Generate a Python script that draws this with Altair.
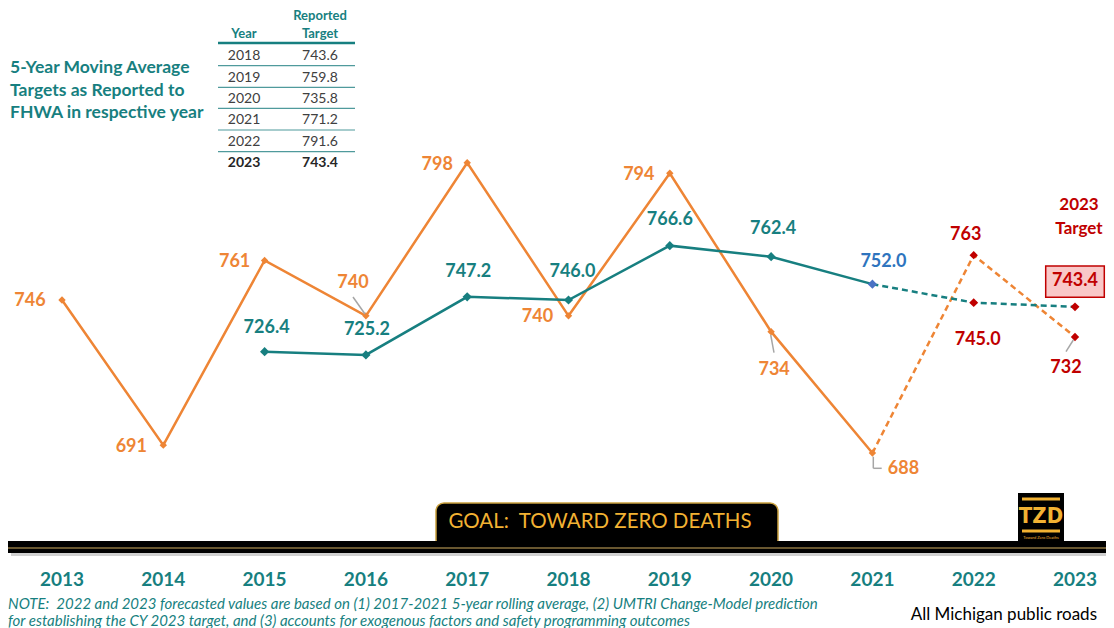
import altair as alt
import pandas as pd

# ---------------- data ----------------
years_actual = [2013, 2014, 2015, 2016, 2017, 2018, 2019, 2020, 2021, 2022, 2023]
fatalities = [746, 691, 761, 740, 798, 740, 794, 734, 688, 763, 732]

years_avg = [2015, 2016, 2017, 2018, 2019, 2020, 2021, 2022, 2023]
moving_avg = [726.4, 725.2, 747.2, 746.0, 766.6, 762.4, 752.0, 745.0, 743.4]

axis_years = [2013, 2014, 2015, 2016, 2017, 2018, 2019, 2020, 2021, 2022, 2023]

table_years = ["2018", "2019", "2020", "2021", "2022", "2023"]
table_targets = ["743.6", "759.8", "735.8", "771.2", "791.6", "743.4"]

title_lines = ["5-Year Moving Average", "Targets as Reported to", "FHWA in respective year"]
note_lines = [
    "NOTE:\u00a0\u00a02022 and 2023 forecasted values are based on (1) 2017-2021 5-year rolling average, (2) UMTRI Change-Model prediction",
    "for establishing the CY 2023 target, and (3) accounts for exogenous factors and safety programming outcomes",
]

# ---------------- layout / style ----------------
W, H = 1098, 620
FONT = "Lato"
ORANGE = "#EE8535"
TEAL = "#177F80"
BLUE_TXT = "#2E74BE"
BLUE_MK = "#4A72C4"
RED = "#C00000"
GRAY = "#A6A6A6"
GOLD = "#F2B233"

xs = alt.Scale(domain=[2012.4669, 2023.306], nice=False, zero=False)
ys = alt.Scale(domain=[621.71, 856.65], nice=False, zero=False)

# label pixel offsets (layout only)
act_offsets = [(-32, 1), (-32, 2), (-30, 2), (-13, -33), (-30, 2), (-31, 1),
               (-31, 2), (3, 38), (31, 16), (-8, -20), (-9, 31)]
avg_offsets = [(2, -24), (1, -25), (1, -25), (4, -28), (0, -26), (2, -28),
               (11, -22), (4, 37), (0, -26)]

act = pd.DataFrame({"year": years_actual, "value": fatalities})
avg = pd.DataFrame({"year": years_avg, "value": moving_avg})
one = pd.DataFrame({"k": [0]})


def enc(chart):
    return chart.encode(
        x=alt.X("year:Q", scale=xs, axis=None),
        y=alt.Y("value:Q", scale=ys, axis=None),
    )


layers = []

# bottom banner pieces (drawn first)
layers.append(
    alt.Chart(one).mark_rect(fill="black", stroke="#C9A03E", strokeWidth=1.5, cornerRadius=8)
    .encode(x=alt.value(428), x2=alt.value(770), y=alt.value(495), y2=alt.value(540))
)
layers.append(
    alt.Chart(one).mark_text(text="GOAL:\u00a0\u00a0TOWARD ZERO DEATHS", font=FONT, fontSize=20.5,
                             color=GOLD, align="center", baseline="middle")
    .encode(x=alt.value(592), y=alt.value(514))
)
# TZD logo
layers.append(
    alt.Chart(one).mark_rect(fill="black")
    .encode(x=alt.value(1010), x2=alt.value(1056), y=alt.value(485), y2=alt.value(535))
)
for yy in [491, 523]:
    layers.append(
        alt.Chart(one).mark_rule(color=GOLD, strokeWidth=3)
        .encode(x=alt.value(1014), x2=alt.value(1052), y=alt.value(yy))
    )
layers.append(
    alt.Chart(one).mark_text(text="TZD", font="DejaVu Sans Condensed", fontSize=22, fontWeight="bold",
                             color=GOLD, align="center", baseline="middle")
    .encode(x=alt.value(1033), y=alt.value(508))
)
layers.append(
    alt.Chart(one).mark_text(text="Toward Zero Deaths", font=FONT, fontSize=4,
                             color=GOLD, align="center", baseline="middle")
    .encode(x=alt.value(1033), y=alt.value(530))
)
# black bar with gold stripe and shadow
layers.append(
    alt.Chart(one).mark_rect(fill="#D0D0D0")
    .encode(x=alt.value(3), x2=alt.value(W), y=alt.value(545), y2=alt.value(548))
)
layers.append(
    alt.Chart(one).mark_rect(fill="black")
    .encode(x=alt.value(-8), x2=alt.value(W + 8), y=alt.value(533), y2=alt.value(545))
)
layers.append(
    alt.Chart(one).mark_rule(color="#8C7440", strokeWidth=1.5)
    .encode(x=alt.value(-8), x2=alt.value(W + 8), y=alt.value(540))
)

# lines
layers.append(enc(alt.Chart(act[act.year <= 2021]).mark_line(color=ORANGE, strokeWidth=2.5)))
layers.append(enc(alt.Chart(act[act.year >= 2021]).mark_line(color=ORANGE, strokeWidth=2.5, strokeDash=[6, 4])))
layers.append(enc(alt.Chart(avg[avg.year <= 2021]).mark_line(color=TEAL, strokeWidth=2.5)))
layers.append(enc(alt.Chart(avg[avg.year >= 2021]).mark_line(color=TEAL, strokeWidth=2.5, strokeDash=[6, 4])))

# markers
layers.append(enc(alt.Chart(act[act.year <= 2021]).mark_point(shape="diamond", filled=True, size=55, color=ORANGE, opacity=1)))
layers.append(enc(alt.Chart(act[act.year >= 2022]).mark_point(shape="diamond", filled=True, size=70, color=RED, opacity=1)))
layers.append(enc(alt.Chart(avg[avg.year <= 2020]).mark_point(shape="diamond", filled=True, size=85, color=TEAL, opacity=1)))
layers.append(enc(alt.Chart(avg[avg.year == 2021]).mark_point(shape="diamond", filled=True, size=85, color=BLUE_MK, opacity=1)))
layers.append(enc(alt.Chart(avg[avg.year >= 2022]).mark_point(shape="diamond", filled=True, size=80, color=RED, opacity=1)))

# leader lines
for (x1, y1, x2, y2) in [(345, 289, 357, 306), (762.7, 327, 766, 344.7),
                         (865.3, 448.7, 865.3, 460.3), (865.3, 460.3, 873.7, 460.3),
                         (1058, 343.7, 1065.3, 332)]:
    layers.append(
        alt.Chart(one).mark_rule(color=GRAY, strokeWidth=1.5)
        .encode(x=alt.value(x1), y=alt.value(y1), x2=alt.value(x2), y2=alt.value(y2))
    )

# box for the 2023 target
layers.append(
    alt.Chart(one).mark_rect(fill="#F9C8C8", stroke=RED, strokeWidth=1.5)
    .encode(x=alt.value(1037.7), x2=alt.value(1096.3), y=alt.value(258), y2=alt.value(289.3))
)

# data labels
for i, (yr, v) in enumerate(zip(years_actual, fatalities)):
    dx, dy = act_offsets[i]
    col = ORANGE if yr <= 2021 else RED
    d = pd.DataFrame({"year": [yr], "value": [v], "t": [f"{v:d}"]})
    layers.append(enc(alt.Chart(d).mark_text(dx=dx, dy=dy, font=FONT, fontSize=18, fontWeight="bold",
                                             color=col, align="center", baseline="middle")).encode(text="t:N"))
for i, (yr, v) in enumerate(zip(years_avg, moving_avg)):
    dx, dy = avg_offsets[i]
    col = TEAL if yr <= 2020 else (BLUE_TXT if yr == 2021 else RED)
    d = pd.DataFrame({"year": [yr], "value": [v], "t": [f"{v:.1f}"]})
    layers.append(enc(alt.Chart(d).mark_text(dx=dx, dy=dy, font=FONT, fontSize=18, fontWeight="bold",
                                             color=col, align="center", baseline="middle")).encode(text="t:N"))

# 2023 Target heading
for txt, yy in [("2023", 197), ("Target", 221)]:
    layers.append(
        alt.Chart(one).mark_text(text=txt, font=FONT, fontSize=17, fontWeight="bold", color=RED,
                                 align="center", baseline="middle")
        .encode(x=alt.value(1071), y=alt.value(yy))
    )

# x axis year labels
layers.append(
    alt.Chart(pd.DataFrame({"year": axis_years, "t": [str(y) for y in axis_years]}))
    .mark_text(font=FONT, fontSize=19, fontWeight="bold", color=TEAL, align="center", baseline="middle")
    .encode(x=alt.X("year:Q", scale=xs, axis=None), y=alt.value(572), text="t:N")
)

# left title
for txt, yy in zip(title_lines, [60, 83, 105]):
    layers.append(
        alt.Chart(one).mark_text(text=txt, font=FONT, fontSize=17.5, fontWeight="bold", color=TEAL,
                                 align="left", baseline="middle")
        .encode(x=alt.value(2), y=alt.value(yy))
    )

# table
for txt, xx, yy in [("Reported", 312, 8), ("Target", 312, 26), ("Year", 236, 26)]:
    layers.append(
        alt.Chart(one).mark_text(text=txt, font=FONT, fontSize=13, fontWeight="bold", color=TEAL,
                                 align="center", baseline="middle")
        .encode(x=alt.value(xx), y=alt.value(yy))
    )
layers.append(
    alt.Chart(one).mark_rule(color=TEAL, strokeWidth=2.5)
    .encode(x=alt.value(210), x2=alt.value(347), y=alt.value(35))
)
for yy in [57.7, 79.3, 100.3, 122, 143.7]:
    layers.append(
        alt.Chart(one).mark_rule(color="#4F9A9C", strokeWidth=1.2)
        .encode(x=alt.value(210), x2=alt.value(347), y=alt.value(yy))
    )
row_y = [48, 69.7, 91, 112, 133.7, 155.3]
for i, (ty, tv) in enumerate(zip(table_years, table_targets)):
    last = i == len(table_years) - 1
    for txt, xx in [(ty, 236), (tv, 312)]:
        layers.append(
            alt.Chart(one).mark_text(text=txt, font=FONT, fontSize=14,
                                     fontWeight="bold" if last else "normal",
                                     color="#262626" if last else "#404040",
                                     align="center", baseline="middle")
            .encode(x=alt.value(xx), y=alt.value(row_y[i]))
        )

# note
for txt, yy in zip(note_lines, [596, 613]):
    layers.append(
        alt.Chart(one).mark_text(text=txt, font=FONT, fontSize=15, fontStyle="italic", color=TEAL,
                                 align="left", baseline="middle")
        .encode(x=alt.value(0), y=alt.value(yy))
    )
layers.append(
    alt.Chart(one).mark_text(text="All Michigan public roads", font=FONT, fontSize=17, color="black",
                             align="right", baseline="middle")
    .encode(x=alt.value(1089), y=alt.value(607))
)

chart = (
    alt.layer(*layers)
    .properties(width=W, height=H, autosize=alt.AutoSizeParams(type="none"), padding=0)
    .configure_view(stroke=None)
)

chart.save("out.html", embed_options={"renderer": "svg", "actions": False})
